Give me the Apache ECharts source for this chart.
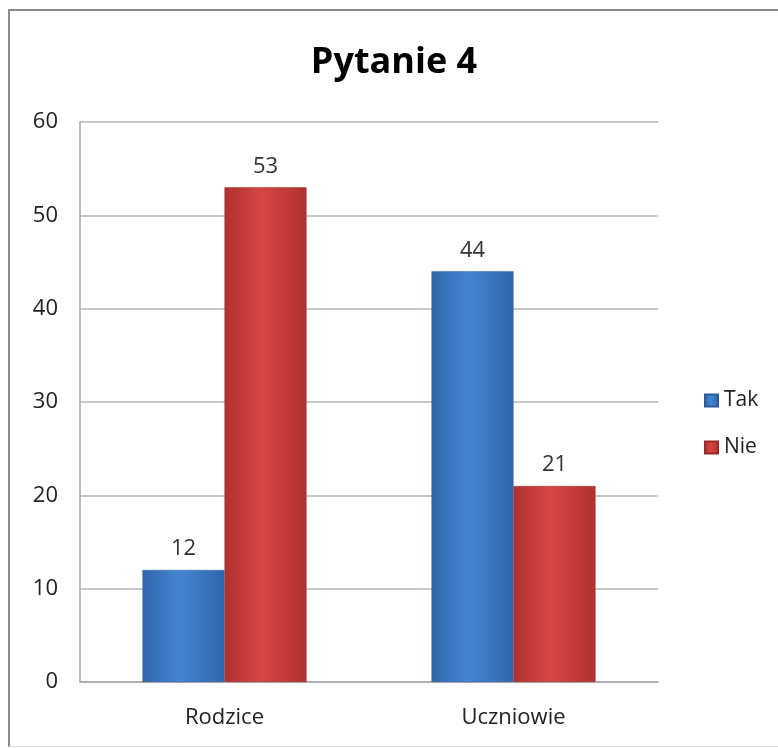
<!DOCTYPE html>
<html><head><meta charset="utf-8">
<script src="https://cdn.jsdelivr.net/npm/echarts@6/dist/echarts.min.js"></script>
<style>
html,body{margin:0;padding:0;background:#fff;}
#frame{position:absolute;left:8px;top:9px;width:790px;height:738px;border:2px solid #8c8c8c;border-bottom:1px solid #e0e0e0;box-sizing:border-box;}
#c{position:absolute;left:0;top:0;width:778px;height:748px;}
</style></head>
<body>
<div id="frame"></div>
<div id="c"></div>
<script>
const categories = ['Rodzice', 'Uczniowie'];
const takValues = [12, 44];
const nieValues = [53, 21];
const yTicks = { min: 0, max: 60, interval: 10 };

const font = '"Open Sans", sans-serif';
function grad(edge, mid) {
  return new echarts.graphic.LinearGradient(0, 0, 1, 0, [
    { offset: 0, color: edge }, { offset: 0.45, color: mid }, { offset: 1, color: edge }
  ]);
}
const chart = echarts.init(document.getElementById('c'));
chart.setOption({
  animation: false,
  title: { text: 'Pytanie 4', left: 389, textAlign: 'center', top: 40,
    textStyle: { fontFamily: font, fontSize: 36, fontWeight: 'bold', color: '#000' } },
  legend: { orient: 'vertical', left: 699, top: 385, itemGap: 26, itemWidth: 13, itemHeight: 12,
    icon: 'rect', textStyle: { fontFamily: font, fontSize: 21, color: '#222', padding: [0, 0, 0, 1] },
    data: ['Tak', 'Nie'] },
  grid: { left: 80, right: 120, top: 122, bottom: 66, containLabel: false },
  xAxis: { type: 'category', data: categories,
    axisLine: { lineStyle: { color: '#a8a8a8', width: 1.5 } }, axisTick: { show: false },
    axisLabel: { fontFamily: font, fontSize: 22, color: '#222', margin: 25 } },
  yAxis: { type: 'value', min: yTicks.min, max: yTicks.max, interval: yTicks.interval,
    axisLine: { show: true, lineStyle: { color: '#a8a8a8', width: 1.5 } }, axisTick: { show: false },
    splitLine: { lineStyle: { color: '#b4b4b4', width: 1.5 } },
    axisLabel: { fontFamily: font, fontSize: 22, color: '#222', margin: 22 } },
  series: [
    { name: 'Tak', type: 'bar', data: takValues, barWidth: 82, barGap: '0%',
      itemStyle: { color: grad('#2f66ac', '#4485d2'), borderColor: '#2a5a98', borderWidth: 0.5 },
      label: { show: true, position: 'top', distance: 10, fontFamily: font, fontSize: 22, color: '#333' } },
    { name: 'Nie', type: 'bar', data: nieValues, barWidth: 82, barGap: '0%',
      itemStyle: { color: grad('#ad322f', '#d84543'), borderColor: '#9a2a28', borderWidth: 0.5 },
      label: { show: true, position: 'top', distance: 10, fontFamily: font, fontSize: 22, color: '#333' } }
  ]
});
</script>
</body></html>
